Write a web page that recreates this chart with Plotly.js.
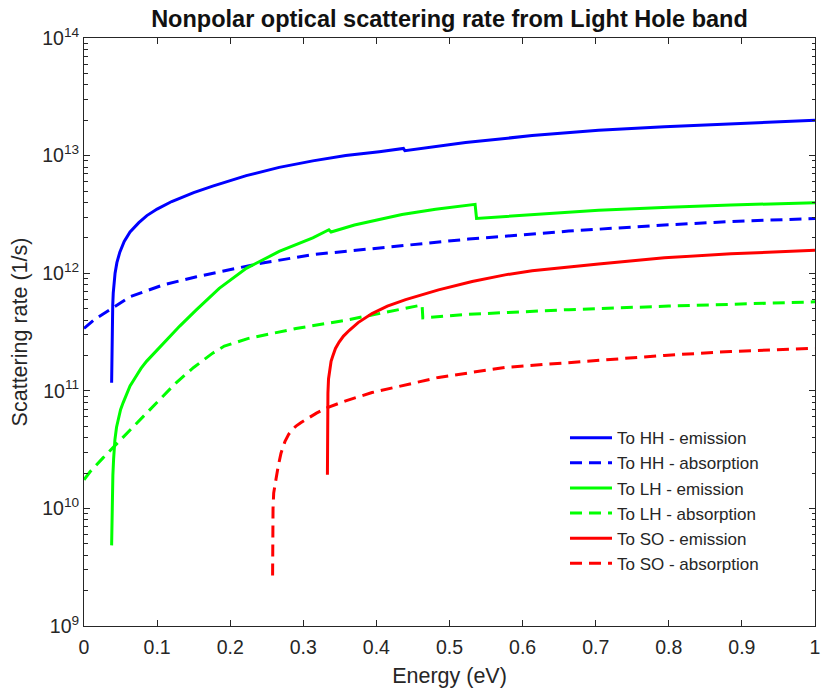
<!DOCTYPE html>
<html>
<head>
<meta charset="utf-8">
<script src="https://cdn.plot.ly/plotly-3.0.1.min.js"></script>
<style>
  html, body { margin: 0; padding: 0; background: #fff; }
  #chart { width: 821px; height: 693px; }
</style>
</head>
<body>
<div id="chart"></div>
<script>
// Energy (eV) and scattering rate (1/s) for each final band and process
const hhEmisE = [0.0378, 0.0380, 0.0383, 0.0387, 0.0393, 0.0400, 0.0410, 0.0425, 0.0450, 0.0490, 0.0550, 0.0630, 0.0750, 0.0860, 0.100, 0.120, 0.150, 0.176, 0.222, 0.267, 0.313, 0.358, 0.404, 0.437, 0.439, 0.522, 0.613, 0.704, 0.794, 0.885, 1.0];
const hhEmisRate = [1.17e11, 2.00e11, 2.82e11, 3.98e11, 5.37e11, 6.76e11, 8.32e11, 1.00e12, 1.23e12, 1.51e12, 1.86e12, 2.24e12, 2.69e12, 3.09e12, 3.51e12, 4.07e12, 4.84e12, 5.50e12, 6.76e12, 7.94e12, 9.02e12, 1.00e13, 1.08e13, 1.15e13, 1.10e13, 1.29e13, 1.48e13, 1.64e13, 1.76e13, 1.87e13, 2.00e13];

const hhAbsE = [0, 0.015, 0.038, 0.063, 0.108, 0.154, 0.199, 0.244, 0.313, 0.404, 0.526, 0.663, 0.794, 0.885, 1.0];
const hhAbsRate = [3.39e11, 4.07e11, 5.01e11, 6.31e11, 7.94e11, 9.33e11, 1.07e12, 1.22e12, 1.44e12, 1.64e12, 1.95e12, 2.28e12, 2.57e12, 2.75e12, 2.92e12];

const lhEmisE = [0.0378, 0.0380, 0.0383, 0.0388, 0.0395, 0.0405, 0.0423, 0.0445, 0.0468, 0.0500, 0.0536, 0.0580, 0.0630, 0.0700, 0.0780, 0.0855, 0.108, 0.131, 0.154, 0.185, 0.222, 0.267, 0.313, 0.335, 0.338, 0.370, 0.404, 0.435, 0.481, 0.535, 0.537, 0.600, 0.663, 0.704, 0.800, 0.885, 1.0];
const lhEmisRate = [4.85e9, 7.08e9, 1.00e10, 1.41e10, 1.91e10, 2.63e10, 3.85e10, 4.90e10, 5.75e10, 6.92e10, 7.94e10, 9.33e10, 1.10e11, 1.29e11, 1.55e11, 1.78e11, 2.51e11, 3.55e11, 4.90e11, 7.43e11, 1.10e12, 1.53e12, 2.00e12, 2.34e12, 2.24e12, 2.57e12, 2.86e12, 3.16e12, 3.49e12, 3.85e12, 2.92e12, 3.09e12, 3.27e12, 3.43e12, 3.63e12, 3.80e12, 3.98e12];

const lhAbsE = [0, 0.008, 0.026, 0.040, 0.063, 0.0855, 0.099, 0.126, 0.150, 0.176, 0.192, 0.208, 0.225, 0.244, 0.290, 0.358, 0.404, 0.4625, 0.4635, 0.526, 0.663, 0.80, 1.0];
const lhAbsRate = [1.75e10, 2.04e10, 2.69e10, 3.31e10, 4.62e10, 6.46e10, 7.94e10, 1.17e11, 1.58e11, 2.09e11, 2.40e11, 2.60e11, 2.79e11, 2.95e11, 3.39e11, 3.98e11, 4.54e11, 5.37e11, 4.17e11, 4.47e11, 4.90e11, 5.25e11, 5.71e11];

const soEmisE = [0.3330, 0.3331, 0.3333, 0.3337, 0.3345, 0.3360, 0.3380, 0.3400, 0.3440, 0.3490, 0.3550, 0.3630, 0.3750, 0.3940, 0.4150, 0.440, 0.485, 0.531, 0.576, 0.613, 0.660, 0.704, 0.794, 0.885, 1.0];
const soEmisRate = [1.93e10, 3.55e10, 6.31e10, 9.55e10, 1.26e11, 1.55e11, 1.78e11, 1.95e11, 2.29e11, 2.60e11, 2.92e11, 3.27e11, 3.80e11, 4.54e11, 5.25e11, 5.96e11, 7.21e11, 8.51e11, 9.68e11, 1.05e12, 1.13e12, 1.20e12, 1.35e12, 1.46e12, 1.57e12];

const soAbsE = [0.258, 0.2582, 0.2586, 0.2595, 0.2610, 0.2627, 0.2660, 0.2695, 0.2750, 0.2800, 0.2850, 0.2900, 0.2970, 0.3036, 0.318, 0.333, 0.358, 0.394, 0.440, 0.485, 0.576, 0.667, 0.794, 0.885, 1.0];
const soAbsRate = [2.69e9, 6.31e9, 1.00e10, 1.35e10, 1.62e10, 1.78e10, 2.34e10, 2.95e10, 3.72e10, 4.27e10, 4.68e10, 5.01e10, 5.37e10, 5.71e10, 6.46e10, 7.19e10, 8.22e10, 9.66e10, 1.12e11, 1.30e11, 1.58e11, 1.75e11, 2.00e11, 2.16e11, 2.30e11];

const seriesNames = ['To HH - emission', 'To HH - absorption', 'To LH - emission', 'To LH - absorption', 'To SO - emission', 'To SO - absorption'];

// Axis tick labels
const xTickVals = [0, 0.1, 0.2, 0.3, 0.4, 0.5, 0.6, 0.7, 0.8, 0.9, 1];
const xTickText = ['0', '0.1', '0.2', '0.3', '0.4', '0.5', '0.6', '0.7', '0.8', '0.9', '1'];
const yTickVals = [1e9, 1e10, 1e11, 1e12, 1e13, 1e14];
const yTickText = ['10<sup>9</sup>', '10<sup>10</sup>', '10<sup>11</sup>', '10<sup>12</sup>', '10<sup>13</sup>', '10<sup>14</sup>'];

const font = 'Liberation Sans, Arial, Helvetica, sans-serif';
const ink = '#262626';
const dashed = '12px,7px';

// minor ticks at 2..9 of every decade
const yMinor = [];
for (let p = 9; p < 14; p++) {
  for (let m = 2; m <= 9; m++) yMinor.push(m * Math.pow(10, p));
}

function series(x, y, name, color, dash, group) {
  return {
    x: x, y: y, name: name, type: 'scatter', mode: 'lines',
    legendgroup: group,
    line: { color: color, width: 3, dash: dash },
    hoverinfo: 'x+y+name'
  };
}

const data = [
  series(hhEmisE, hhEmisRate, seriesNames[0], '#0000ff', 'solid', 'g1'),
  series(hhAbsE, hhAbsRate, seriesNames[1], '#0000ff', dashed, 'g2'),
  series(lhEmisE, lhEmisRate, seriesNames[2], '#00ff00', 'solid', 'g3'),
  series(lhAbsE, lhAbsRate, seriesNames[3], '#00ff00', dashed, 'g4'),
  series(soEmisE, soEmisRate, seriesNames[4], '#ff0000', 'solid', 'g5'),
  series(soAbsE, soAbsRate, seriesNames[5], '#ff0000', dashed, 'g6')
];

const layout = {
  width: 821,
  height: 693,
  margin: { l: 84, r: 6, t: 38, b: 67, pad: 0 },
  paper_bgcolor: '#ffffff',
  plot_bgcolor: '#ffffff',
  font: { family: font, color: ink },
  showlegend: true,
  title: {
    text: 'Nonpolar optical scattering rate from Light Hole band',
    font: { family: font, size: 23.5, color: '#111111', weight: 'bold' },
    x: 0.5, xref: 'paper', xanchor: 'center',
    y: 1 - 19 / 693, yref: 'container', yanchor: 'middle'
  },
  xaxis: {
    range: [0, 1],
    tickmode: 'array', tickvals: xTickVals, ticktext: xTickText,
    ticks: 'inside', ticklen: 6, tickwidth: 1, tickcolor: ink,
    ticklabelstandoff: 4,
    ticklabeloverflow: 'allow',
    showline: true, linecolor: ink, linewidth: 1, mirror: 'ticks',
    showgrid: false, zeroline: false,
    tickfont: { family: font, size: 19.5, color: ink },
    title: { text: 'Energy (eV)', font: { family: font, size: 21.5, color: ink }, standoff: 10 }
  },
  yaxis: {
    type: 'log',
    range: [9, 14],
    tickmode: 'array', tickvals: yTickVals, ticktext: yTickText,
    ticks: 'inside', ticklen: 6, tickwidth: 1, tickcolor: ink,
    minor: { tickmode: 'array', tickvals: yMinor, ticks: 'inside', ticklen: 3.5, tickwidth: 1, tickcolor: ink, showgrid: false },
    showline: true, linecolor: ink, linewidth: 1, mirror: 'ticks',
    showgrid: false, zeroline: false,
    tickfont: { family: font, size: 19.5, color: ink },
    title: { text: 'Scattering rate (1/s)', font: { family: font, size: 21.5, color: ink }, standoff: 8 }
  },
  legend: {
    x: 0.658, y: 0.35, xanchor: 'left', yanchor: 'top',
    bgcolor: 'rgba(0,0,0,0)', borderwidth: 0,
    font: { family: font, size: 17, color: ink },
    itemwidth: 42,
    tracegroupgap: 0,
    traceorder: 'normal'
  }
};

Plotly.newPlot('chart', data, layout, { displayModeBar: false, responsive: false, staticPlot: true });
</script>
</body>
</html>
